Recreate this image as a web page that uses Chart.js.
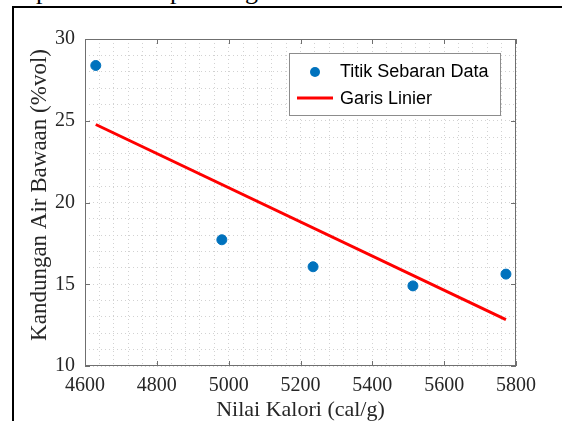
<!DOCTYPE html>
<html>
<head>
<meta charset="utf-8">
<script src="https://cdn.jsdelivr.net/npm/chart.js@4"></script>
<style>
  html, body { margin: 0; padding: 0; background: #fff; }
  #wrap { position: relative; width: 562px; height: 421px; overflow: hidden; }
  #bingkai { position: absolute; left: 12px; top: 6px; width: 560px; height: 430px;
             border-left: 2px solid #000; border-top: 2px solid #000; }
  .potong { position: absolute; top: -22px; font: 26px/26px "Liberation Serif", serif; color: #000; }
  canvas { position: absolute; left: 0; top: 0; }
</style>
</head>
<body>
<div id="wrap">
  <span class="potong" style="left:36px">p</span>
  <span class="potong" style="left:170px">p</span>
  <span class="potong" style="left:245px">g</span>
  <div id="bingkai"></div>
  <canvas id="grafik" width="562" height="421"></canvas>
</div>
<script>
// data
const nilaiKalori = [4630, 4981, 5235, 5513, 5772];
const kadarAir = [28.38, 17.72, 16.07, 14.90, 15.62];
const garisX = [4630, 5772];
const garisY = [24.77, 12.84];

const labelTitik = "Titik Sebaran Data";
const labelGaris = "Garis Linier";
const judulX = "Nilai Kalori (cal/g)";
const judulY = "Kandungan Air Bawaan (%vol)";

const warnaTitik = "#0072BD";
const warnaGaris = "#ff0000";
const warnaKotak = "#6f6f6f";

// kotak sumbu + tick ke dalam + judul y + legenda
const kotakSumbu = {
  id: "kotakSumbu",
  afterDraw(chart) {
    const c = chart.ctx;
    const a = chart.chartArea;
    const sx = chart.scales.x;
    const sy = chart.scales.y;
    c.save();
    c.strokeStyle = warnaKotak;
    c.lineWidth = 1;
    c.strokeRect(a.left + 0.5, a.top + 0.5, a.right - a.left - 1, a.bottom - a.top - 1);
    c.beginPath();
    for (let v = 4600; v <= 5800; v += 200) {
      const px = Math.round(sx.getPixelForValue(v)) + 0.5;
      c.moveTo(px, a.bottom); c.lineTo(px, a.bottom - 5);
      c.moveTo(px, a.top); c.lineTo(px, a.top + 5);
    }
    for (let v = 10; v <= 30; v += 5) {
      const py = Math.round(sy.getPixelForValue(v)) + 0.5;
      c.moveTo(a.left, py); c.lineTo(a.left + 5, py);
      c.moveTo(a.right, py); c.lineTo(a.right - 5, py);
    }
    c.stroke();

    // judul sumbu y
    c.save();
    c.translate(40, 195);
    c.rotate(-Math.PI / 2);
    c.fillStyle = "#262626";
    c.font = '23px "Liberation Serif", serif';
    c.textAlign = "center";
    c.textBaseline = "middle";
    c.fillText(judulY, 0, 0);
    c.restore();

    // legenda
    const x0 = 289, y0 = 53, x1 = a.right - 15, y1 = 116;
    c.fillStyle = "#fff";
    c.fillRect(x0, y0, x1 - x0, y1 - y0);
    c.strokeStyle = "#8c8c8c";
    c.strokeRect(x0 + 0.5, y0 + 0.5, x1 - x0 - 1, y1 - y0 - 1);
    c.fillStyle = warnaTitik;
    c.beginPath();
    c.arc(315, 72, 5, 0, Math.PI * 2);
    c.fill();
    c.strokeStyle = warnaGaris;
    c.lineWidth = 3;
    c.beginPath();
    c.moveTo(297, 98); c.lineTo(333, 98);
    c.stroke();
    c.fillStyle = "#000";
    c.font = '18px "Liberation Sans", Arial, sans-serif';
    c.textBaseline = "middle";
    c.textAlign = "left";
    c.fillText(chart.data.datasets[0].label, 340, 72);
    c.fillText(chart.data.datasets[1].label, 340, 99);
    c.restore();
  }
};

const ctx = document.getElementById("grafik").getContext("2d");

const grafik = new Chart(ctx, {
  type: "scatter",
  data: {
    datasets: [{
      label: labelTitik,
      data: nilaiKalori.map((x, i) => ({ x: x, y: kadarAir[i] })),
      backgroundColor: warnaTitik,
      borderColor: warnaTitik,
      pointRadius: 5,
      pointHoverRadius: 5,
      showLine: false
    }, {
      label: labelGaris,
      data: garisX.map((x, i) => ({ x: x, y: garisY[i] })),
      borderColor: warnaGaris,
      backgroundColor: warnaGaris,
      borderWidth: 3,
      pointRadius: 0,
      showLine: true
    }]
  },
  options: {
    responsive: false,
    animation: false,
    layout: { padding: { left: 0, top: 39, right: 46, bottom: 0 } },
    plugins: {
      legend: { display: false },
      tooltip: { enabled: false }
    },
    scales: {
      x: {
        type: "linear",
        min: 4600,
        max: 5800,
        afterFit(s) { s.height = 55; },
        ticks: {
          stepSize: 40,
          autoSkip: false,
          maxRotation: 0,
          padding: 8,
          color: "#262626",
          font: { family: '"Liberation Serif", serif', size: 20 },
          callback: v => (v % 200 === 0 ? String(v) : "")
        },
        grid: { color: "#d2d2d2", drawTicks: false, lineWidth: 1 },
        border: { display: false, dash: [1, 3] },
        title: {
          display: true,
          text: judulX,
          color: "#262626",
          font: { family: '"Liberation Serif", serif', size: 22, lineHeight: 1 },
          padding: { top: 0.5, bottom: 0 }
        }
      },
      y: {
        type: "linear",
        min: 10,
        max: 30,
        afterFit(s) { s.width = 85; },
        ticks: {
          stepSize: 1,
          autoSkip: false,
          padding: 10,
          color: "#262626",
          font: { family: '"Liberation Serif", serif', size: 20 },
          callback: v => (v % 5 === 0 ? String(v) : "")
        },
        grid: { color: "#d2d2d2", drawTicks: false, lineWidth: 1 },
        border: { display: false, dash: [1, 3] },
        title: { display: false }
      }
    }
  },
  plugins: [kotakSumbu]
});
</script>
</body>
</html>
